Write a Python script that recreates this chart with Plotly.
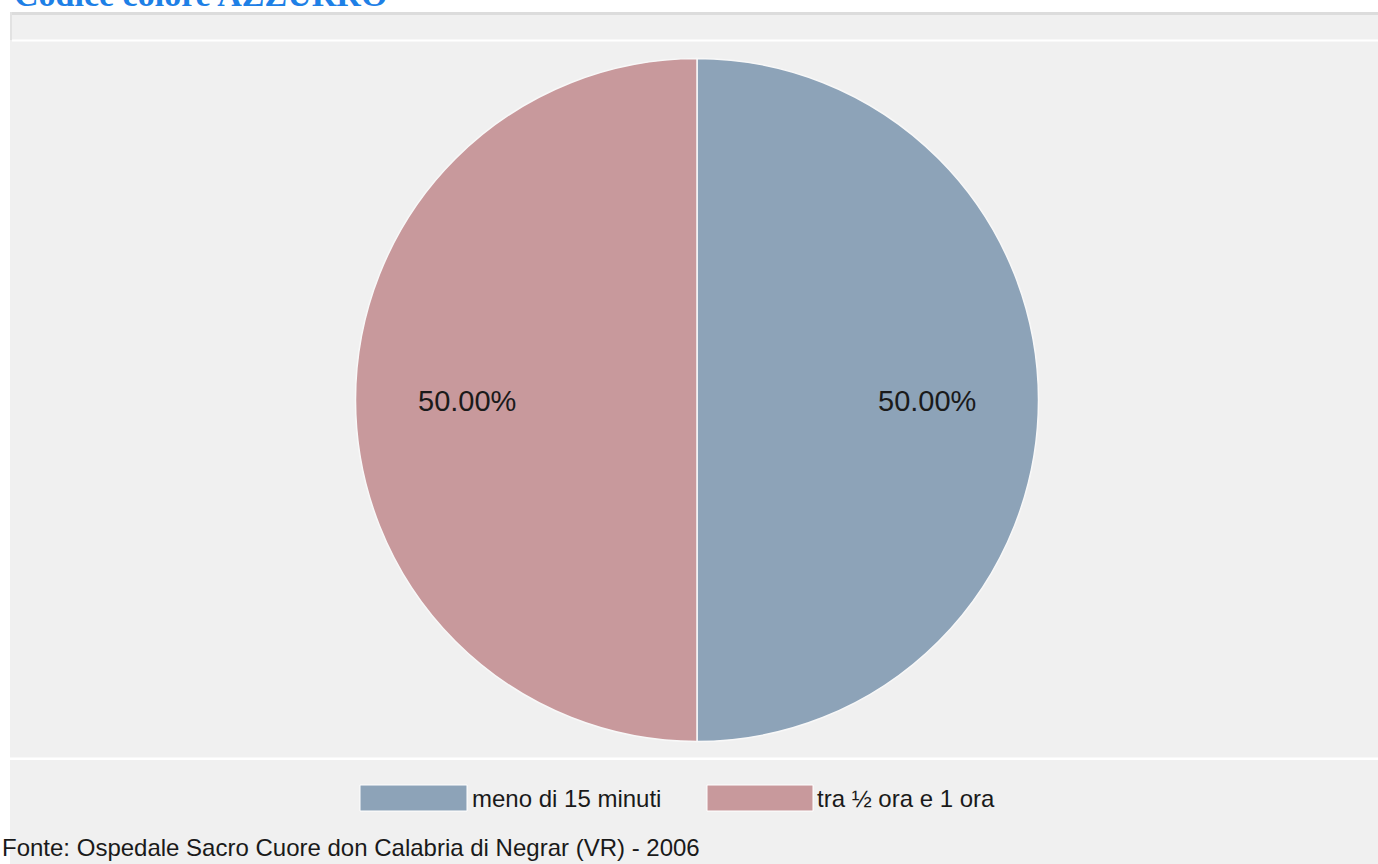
import plotly.graph_objects as go

# ---- data ----
title_text = "Codice colore AZZURRO"
categories = ["meno di 15 minuti", "tra ½ ora e 1 ora"]
values = [50, 50]
colors = ["#8DA3B8", "#C8999C"]
source_text = "Fonte: Ospedale Sacro Cuore don Calabria di Negrar (VR) - 2006"

W, H = 1378, 864


def px(x):
    return x / W


def py(y):
    return 1 - y / H


CX, CY, R = 697, 400, 341.5

fig = go.Figure()
fig.add_trace(go.Pie(
    labels=categories,
    values=values,
    sort=False,
    direction="clockwise",
    rotation=0,
    marker=dict(colors=colors, line=dict(color="#F8F8F8", width=1.5)),
    textinfo="none",
    hoverinfo="label+percent",
    showlegend=False,
    domain=dict(x=[px(CX - R), px(CX + R)], y=[py(CY + R), py(CY - R)]),
))

shapes = [
    # grey panel
    dict(type="rect", xref="paper", yref="paper", x0=px(10), x1=1, y0=0, y1=py(12),
         fillcolor="#F0F0F0", line=dict(width=0), layer="below"),
    # top border
    dict(type="rect", xref="paper", yref="paper", x0=px(10), x1=1, y0=py(15), y1=py(12),
         fillcolor="#DCDCDC", line=dict(width=0), layer="below"),
    # left border of header strip
    dict(type="rect", xref="paper", yref="paper", x0=px(10), x1=px(12), y0=py(40), y1=py(12),
         fillcolor="#E2E2E2", line=dict(width=0), layer="below"),
    # white separator lines
    dict(type="rect", xref="paper", yref="paper", x0=px(12), x1=1, y0=py(41.5), y1=py(39.5),
         fillcolor="#FFFFFF", line=dict(width=0), layer="below"),
    dict(type="rect", xref="paper", yref="paper", x0=px(10), x1=1, y0=py(760), y1=py(757.5),
         fillcolor="#FFFFFF", line=dict(width=0), layer="below"),
]

annotations = [
    dict(text=f"<b>{title_text}</b>", xref="paper", yref="paper", x=px(12), y=py(-6),
         xanchor="left", yanchor="middle", showarrow=False,
         font=dict(family="Liberation Serif", size=34, color="#1E80E6")),
    dict(text=source_text, xref="paper", yref="paper", x=px(0), y=py(847),
         xanchor="left", yanchor="middle", showarrow=False,
         font=dict(family="Liberation Sans", size=24, color="#1a1a1a")),
]

# slice percentage labels (right slice first, then left)
total = sum(values)
label_x = [CX + 230, CX - 230]
for v, lx in zip(values, label_x):
    annotations.append(dict(text=f"{v / total * 100:.2f}%", xref="paper", yref="paper",
                            x=px(lx), y=py(CY + 1), xanchor="center", yanchor="middle",
                            showarrow=False,
                            font=dict(family="Liberation Sans", size=29, color="#1a1a1a")))

# custom legend
legend_items = [(360, 467, 470), (707, 813, 815)]
for (x0, x1, tx), cat, col in zip(legend_items, categories, colors):
    shapes.append(dict(type="rect", xref="paper", yref="paper", x0=px(x0), x1=px(x1),
                       y0=py(811), y1=py(785), fillcolor=col,
                       line=dict(color="#FFFFFF", width=1)))
    annotations.append(dict(text=cat, xref="paper", yref="paper", x=px(tx), y=py(798),
                            xanchor="left", yanchor="middle", showarrow=False,
                            font=dict(family="Liberation Sans", size=24, color="#1a1a1a")))

fig.update_layout(
    width=W, height=H,
    margin=dict(l=0, r=0, t=0, b=0),
    paper_bgcolor="#FFFFFF",
    plot_bgcolor="#FFFFFF",
    shapes=shapes,
    annotations=annotations,
)

fig.write_html("out.html",
               config={"displayModeBar": False},
               post_script="document.body.style.margin='0px';document.body.style.overflow='hidden';")
